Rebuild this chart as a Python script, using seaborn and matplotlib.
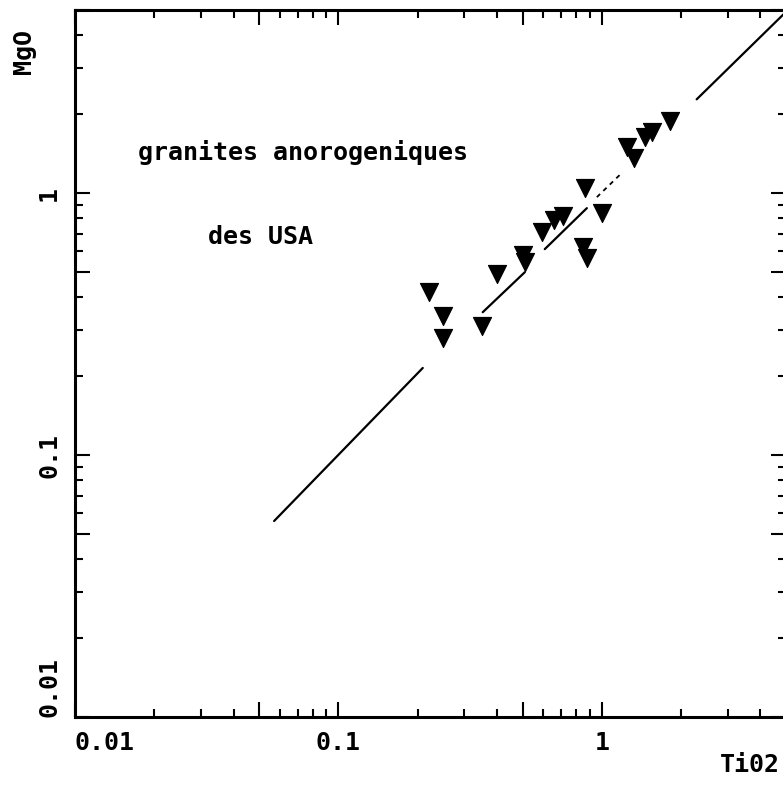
import numpy as np
import matplotlib
matplotlib.use('Agg')
import matplotlib.pyplot as plt
import matplotlib.ticker as mticker
import seaborn as sns

# TiO2 / MgO values
tio2 = [0.22, 0.25, 0.25, 0.35, 0.40, 0.50, 0.51, 0.59, 0.66, 0.71,
        0.86, 1.00, 0.85, 0.88, 1.25, 1.33, 1.46, 1.55, 1.81]
mgo = [0.42, 0.34, 0.28, 0.31, 0.49, 0.58, 0.545, 0.71, 0.79, 0.82,
       1.045, 0.84, 0.62, 0.565, 1.50, 1.36, 1.64, 1.71, 1.88]

# visible pieces of the fitted line (plotter leaves gaps near the symbols)
seg_x0 = [0.057, 0.353, 0.607, 0.957, 2.29]
seg_x1 = [0.209, 0.510, 0.877, 1.200, 5.00]
seg_y0 = [0.056, 0.351, 0.611, 0.965, 2.28]
seg_y1 = [0.215, 0.499, 0.876, 1.203, 4.92]
seg_style = ['-', '-', '-', (0, (2.5, 2.5)), '-']

major_ticks = [0.01, 0.05, 0.1, 0.5, 1, 5]
major_labels = ['0.01', '', '0.1', '', '1', '']

sns.set_style('ticks')
plt.rcParams['font.family'] = ['DejaVu Sans Mono', 'DejaVu Sans']
plt.rcParams['font.weight'] = 'bold'
plt.rcParams['text.color'] = 'black'
plt.rcParams['xtick.color'] = 'black'
plt.rcParams['ytick.color'] = 'black'

W, H = 783, 785
fig = plt.figure(figsize=(W / 100, H / 100), dpi=100)
ax = fig.add_axes([75 / W, (H - 717) / H, 711 / W, 707 / H])

for x0, x1, y0, y1, ls in zip(seg_x0, seg_x1, seg_y0, seg_y1, seg_style):
    ax.plot([x0, x1], [y0, y1], color='black', lw=1.6 if ls == '-' else 1.3, linestyle=ls)

sns.scatterplot(x=tio2, y=mgo, marker='v', s=170, color='black', edgecolor='black',
                linewidth=0.8, ax=ax, zorder=3)

ax.set_xscale('log')
ax.set_yscale('log')
ax.set_xlim(0.01, 5)
ax.set_ylim(0.01, 5)

for axis in (ax.xaxis, ax.yaxis):
    axis.set_major_locator(mticker.FixedLocator(major_ticks))
    axis.set_major_formatter(mticker.FixedFormatter(major_labels))
    axis.set_minor_locator(mticker.LogLocator(base=10, subs=[2, 3, 4, 6, 7, 8, 9], numticks=20))
    axis.set_minor_formatter(mticker.NullFormatter())

ax.tick_params(which='both', direction='in', bottom=True, left=True, top=True, right=True,
               width=1.5, colors='black')
ax.tick_params(which='major', length=11, labelsize=18, pad=10)
ax.tick_params(which='minor', length=6)
for lab in ax.get_yticklabels():
    lab.set_rotation(90)
    lab.set_va('center')
xl = ax.get_xticklabels()
xl[0].set_ha('left')
yl = ax.get_yticklabels()
yl[0].set_va('bottom')

for sp in ax.spines.values():
    sp.set_linewidth(2.2)
    sp.set_color('black')

ax.text((138 - 75) / 711, (717 - 160) / 707, 'granites anorogeniques', transform=ax.transAxes,
        fontsize=18, fontweight='bold', ha='left', va='baseline')
ax.text((208 - 75) / 711, (717 - 244) / 707, 'des USA', transform=ax.transAxes,
        fontsize=18, fontweight='bold', ha='left', va='baseline')

fig.text(24 / W, 1 - 51 / H, 'MgO', rotation=90, fontsize=18, fontweight='bold',
         ha='center', va='center')
fig.text(750 / W, 1 - 765 / H, 'Ti02', fontsize=18, fontweight='bold',
         ha='center', va='center')

fig.savefig('out.png', dpi=100, facecolor='white')
